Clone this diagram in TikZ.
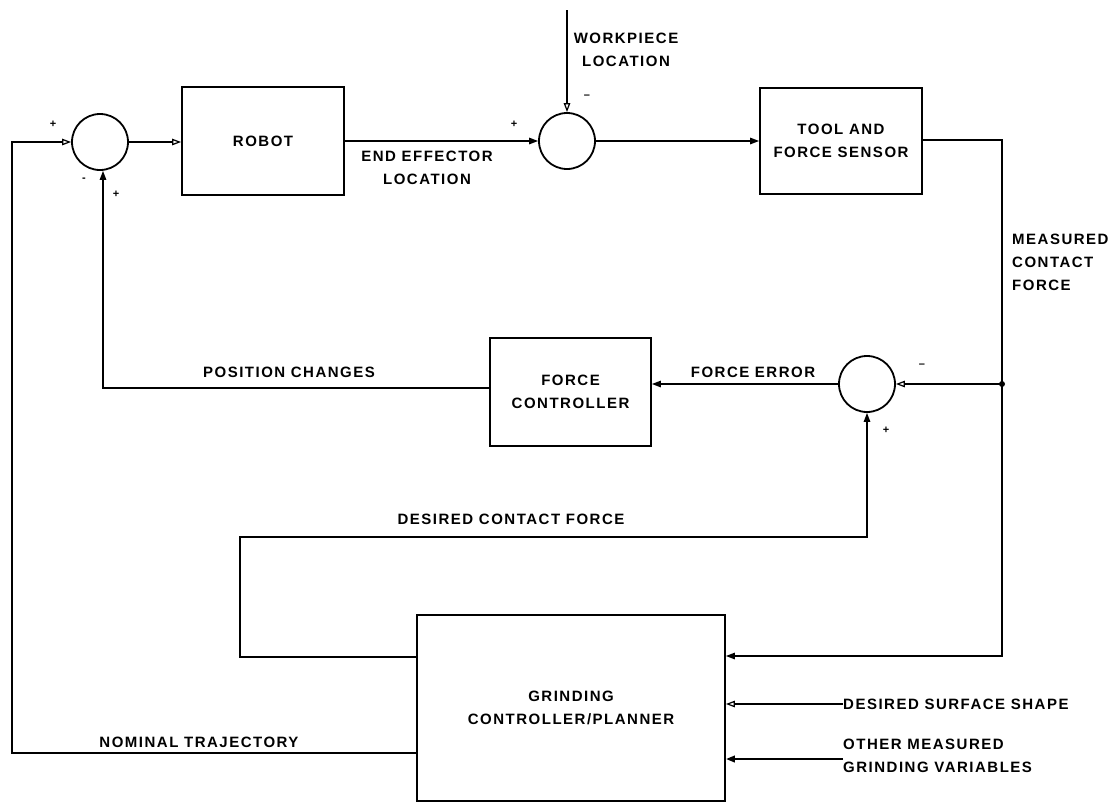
\documentclass[tikz,border=0pt]{standalone}
\usepackage{fontspec}
\setmainfont{Liberation Sans}[LetterSpace=10]
\usetikzlibrary{arrows.meta}
\begin{document}
\begin{tikzpicture}[x=1pt,y=-1pt,
  blk/.style={draw, line width=1.8pt, inner sep=0pt, align=center, font=\lbfont},
  sumj/.style={draw, circle, line width=1.8pt, minimum size=56pt, inner sep=0pt},
  lbl/.style={font=\lbfont, inner sep=0pt},
  ln/.style={line width=1.3pt},
  fa/.style={ln, -{Triangle[length=9pt,width=6.5pt]}},
  oa/.style={ln, -{Triangle[open,length=9pt,width=6.5pt,line width=1.2pt]}},
  sgn/.style={font=\bfseries\fontsize{11}{11}\selectfont, inner sep=0pt}]
\newcommand\lbfont{\bfseries\fontsize{15}{23}\selectfont}
\useasboundingbox (0,0) rectangle (1119,804);
% blocks
\node[sumj] (s1) at (100,142) {};
\node[blk, minimum width=162pt, minimum height=108pt] (robot) at (263,141) {ROBOT};
\node[sumj] (s2) at (567,141) {};
\node[blk, minimum width=162pt, minimum height=106pt] (tool) at (841,141) {TOOL AND\\FORCE SENSOR};
\node[sumj] (s3) at (867,384) {};
\node[blk, minimum width=161pt, minimum height=108pt] (fc) at (570.5,392) {FORCE\\CONTROLLER};
\node[blk, minimum width=308pt, minimum height=186pt] (grind) at (571,708) {GRINDING\\CONTROLLER/PLANNER};
\fill (1002,384) circle (3pt) coordinate (dot);
% helper coordinates
\coordinate (wp) at (567,10);
\coordinate (nomL) at (12,753);
\coordinate (nomT) at (12,142);
\coordinate (mfR) at (1002,140);
\coordinate (mfB) at (1002,656);
\coordinate (pcL) at (103,388);
\coordinate (dcA) at (240,657);
\coordinate (dcB) at (240,537);
\coordinate (dcC) at (867,537);
\coordinate (dss) at (843,704);
\coordinate (omg) at (843,759);
% connectors
\draw[oa] (grind.west |- nomL) -- (nomL) -- (nomT) -- (s1.west);
\draw[oa] (s1.east) -- (robot.west |- s1);
\draw[fa] (robot.east |- s2) -- (s2.west);
\draw[oa] (wp) -- (s2.north);
\draw[fa] (s2.east) -- (tool.west |- s2);
\draw[fa] (tool.east |- mfR) -- (mfR) -- (mfB) -- (grind.east |- mfB);
\draw[oa] (dot) -- (s3.east);
\draw[fa] (s3.west) -- (fc.east |- s3);
\draw[fa] (fc.west |- pcL) -- (pcL) -- (s1.south -| pcL);
\draw[fa] (grind.west |- dcA) -- (dcA) -- (dcB) -- (dcC) -- (s3.south);
\draw[oa] (dss) -- (grind.east |- dss);
\draw[fa, line width=2.2pt] (omg) -- (grind.east |- omg);
% labels
\node[sgn] (p1) at (53,124) {+};
\node[sgn] (m1) at (84,180) {-};
\node[sgn] (p2) at (116,194) {+};
\node[lbl, align=center] (eel) at (427,168) {END EFFECTOR\\LOCATION};
\node[sgn] (p3) at (514,124) {+};
\node[sgn] (m2) at (587,97) {\textendash};
\node[lbl, align=center] (wpl) at (626,50) {WORKPIECE\\LOCATION};
\node[lbl, align=left, anchor=west] (mcf) at (1012,262) {MEASURED\\CONTACT\\FORCE};
\node[lbl] (pcl) at (289,372) {POSITION CHANGES};
\node[lbl] (fel) at (753,372) {FORCE ERROR};
\node[sgn] (m3) at (922,366) {\textendash};
\node[sgn] (p4) at (886,430) {+};
\node[lbl] (dcf) at (511,519) {DESIRED CONTACT FORCE};
\node[lbl] (ntl) at (199,742) {NOMINAL TRAJECTORY};
\node[lbl, anchor=west] (dssl) at (dss) {DESIRED SURFACE SHAPE};
\node[lbl, align=left, anchor=west] (omgl) at (843,756) {OTHER MEASURED\\GRINDING VARIABLES};
\end{tikzpicture}
\end{document}
